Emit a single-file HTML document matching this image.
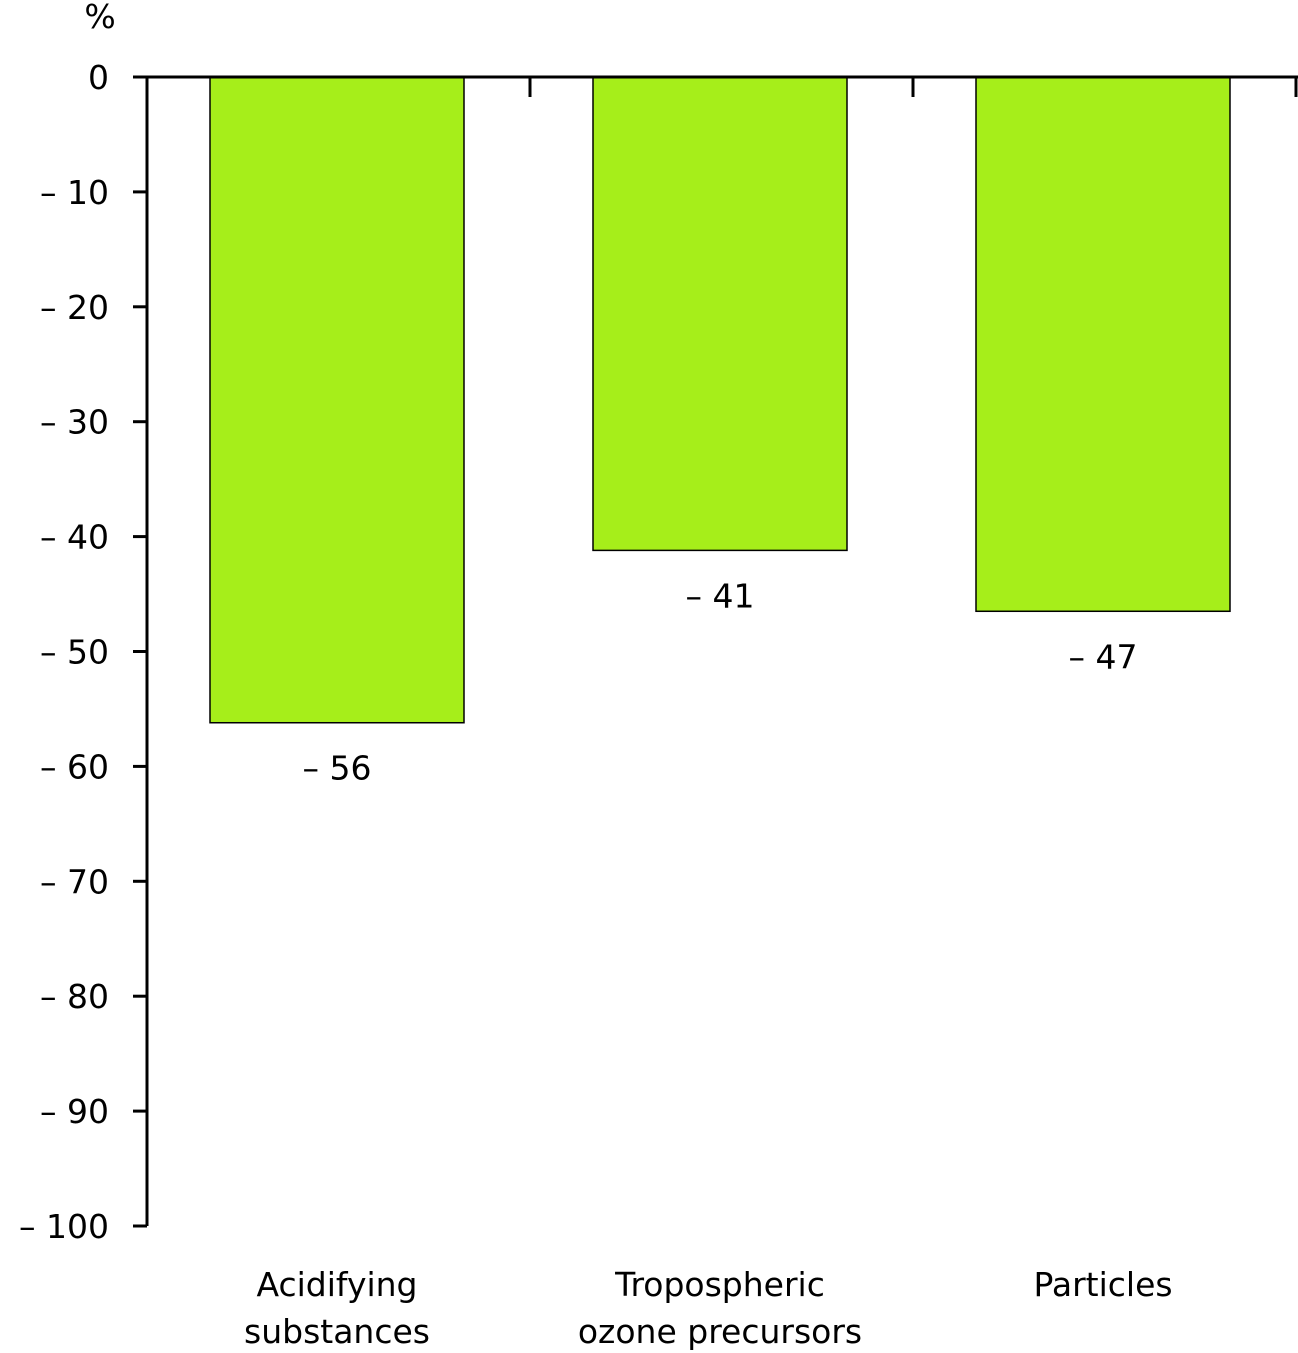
<!DOCTYPE html>
<html><head><meta charset="utf-8"><style>
html,body{margin:0;padding:0;background:#fff;}
svg{display:block;}
text{font-family:"DejaVu Sans","Liberation Sans",sans-serif;font-size:33px;fill:#000;}
</style></head><body>
<svg id="chart" width="1298" height="1353" viewBox="0 0 1298 1353" xmlns="http://www.w3.org/2000/svg"></svg>
<script>
const categories = [["Acidifying","substances"],["Tropospheric","ozone precursors"],["Particles"]];
const values = [-56.2, -41.2, -46.5];
const valueLabels = ["– 56","– 41","– 47"];
const yTicks = [0,-10,-20,-30,-40,-50,-60,-70,-80,-90,-100];
const yTickLabels = ["0","– 10","– 20","– 30","– 40","– 50","– 60","– 70","– 80","– 90","– 100"];

const svg = document.getElementById('chart');
const NS = 'http://www.w3.org/2000/svg';
const x0 = 147, catW = 383, barOff = 63, barW = 254;
const y = v => 77 + (-v) * 11.49;
function mk(tag, attrs, parent){const e=document.createElementNS(NS,tag);for(const k in attrs)e.setAttribute(k,attrs[k]);(parent||svg).appendChild(e);return e;}

// bars
values.forEach((v,i)=>{
  const bx = x0 + i*catW + barOff;
  const r = mk('rect',{x:bx,y:y(0),width:barW,height:y(v)-y(0),fill:'#a6ee1a',stroke:'#000','stroke-width':1.5});
  
  
  const t = mk('text',{x:bx+barW/2,y:y(v)+57,'text-anchor':'middle'});
  t.textContent = valueLabels[i];
  
  
  const lines = categories[i];
  lines.forEach((ln,j)=>{
    const c = mk('text',{x:bx+barW/2,y:1296+j*47,'text-anchor':'middle'});
    c.textContent = ln;
    
    
  });
});

// y axis
const ax = mk('line',{x1:x0,y1:y(0),x2:x0,y2:y(-100),stroke:'#000','stroke-width':3});


yTicks.forEach((v,i)=>{
  const tk = mk('line',{x1:133,y1:y(v),x2:x0,y2:y(v),stroke:'#000','stroke-width':3});
  
  
  const tl = mk('text',{x:109,y:y(v)+12,'text-anchor':'end'});
  tl.textContent = yTickLabels[i];
  
  
});
// top x axis
const xa = mk('line',{x1:x0,y1:y(0),x2:1298,y2:y(0),stroke:'#000','stroke-width':3});


categories.forEach((c,i)=>{
  const xx = x0 + (i+1)*catW;
  const tk = mk('line',{x1:xx,y1:y(0),x2:xx,y2:97,stroke:'#000','stroke-width':3});
  
  
});
const unit = mk('text',{x:100,y:28,'text-anchor':'middle'});
unit.textContent = '%';


</script>
</body></html>
